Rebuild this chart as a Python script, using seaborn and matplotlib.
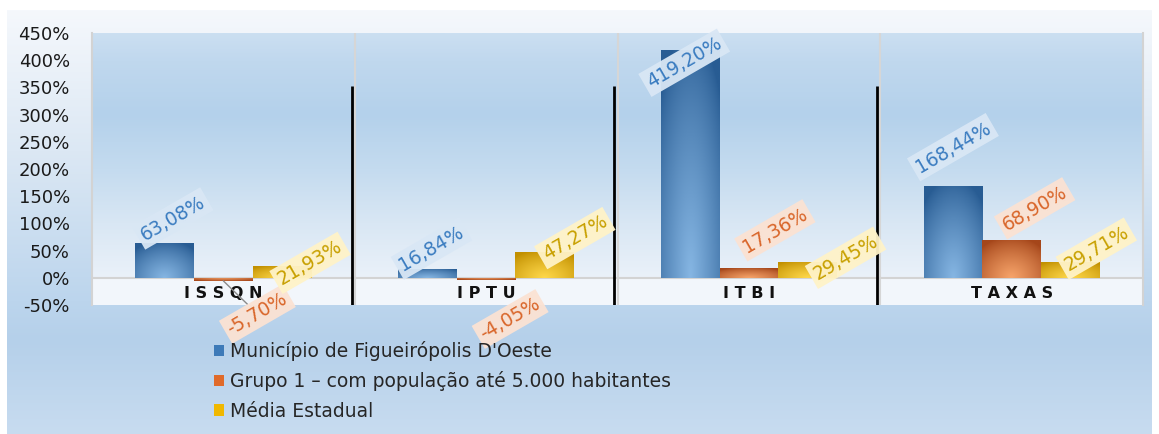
import numpy as np
import pandas as pd
import matplotlib.pyplot as plt
import seaborn as sns
from matplotlib.colors import to_rgb
from matplotlib.patches import Patch

# Data
categorias = ["ISSQN", "IPTU", "ITBI", "TAXAS"]
series = ["Município de Figueirópolis D'Oeste",
          "Grupo 1 \u2013 com população até 5.000 habitantes",
          "Média Estadual"]
municipio = [63.08, 16.84, 419.20, 168.44]
grupo1 = [-5.70, -4.05, 17.36, 68.90]
media_estadual = [21.93, 47.27, 29.45, 29.71]
yticks = list(range(-50, 451, 50))

df = pd.DataFrame({
    "categoria": categorias * 3,
    "serie": [s for s in series for _ in categorias],
    "valor": municipio + grupo1 + media_estadual,
})

# Colours: (dark edge, light centre, legend, label text, label box)
estilos = [
    ("#285c93", "#86b6e3", "#3d7ab8", "#3a7cc0", "#d9e7f5"),
    ("#a5461a", "#f7a46a", "#e06a2a", "#d9662a", "#fbe2d3"),
    ("#c29000", "#ffd84a", "#f0b800", "#c8a000", "#fff3c8"),
]

# manual label placement (pixels from bar end), like the original
offsets = [
    [(8, 25), (4, 20), (-6, -13), (0, 39)],
    [(34, -33), (24, -39), (26, 38), (23, 32)],
    [(28, 3), (30, 14), (38, 4), (26, 13)],
]

sns.set_style("white")
plt.rcParams["font.family"] = ["DejaVu Sans"]

W, H = 1159, 434
fig = plt.figure(figsize=(W / 100, H / 100), dpi=100)

# figure background gradient (framed area)
bg = fig.add_axes([0, 0, 1, 1], zorder=0)
img = np.ones((H, W, 3))
ys = np.arange(H)
stops_y = [10, 150, 300, 340, 434]
stops_c = [to_rgb(c) for c in ["#f5f8fc", "#dce8f4", "#bcd5ed", "#b5d0ea", "#c8dcf0"]]
col = np.stack([np.interp(ys, stops_y, [c[i] for c in stops_c]) for i in range(3)], axis=1)
img[10:, 7:1152, :] = col[10:, None, :]
bg.imshow(img, extent=[0, W, 0, H], aspect="auto")
bg.axis("off")

ax = fig.add_axes([92 / W, 129 / H, (1143 - 92) / W, (305 - 33) / H], zorder=1)
ax.patch.set_alpha(0)

# plot area gradient
gy = np.linspace(0, 450, 200)
g_stops = [0, 100, 200, 300, 400, 450]
g_cols = [to_rgb(c) for c in ["#eaf1f9", "#d9e7f4", "#c4dbef", "#b4d1eb", "#c0d8ee", "#cbdff1"]]
grad = np.stack([np.interp(gy, g_stops, [c[i] for c in g_cols]) for i in range(3)], axis=1)[::-1]
ax.imshow(grad[:, None, :], extent=[-0.5, 3.5, 0, 450], aspect="auto", zorder=0)
ax.axhspan(-50, 0, color="#f2f6fb", zorder=0, lw=0)

sns.barplot(data=df, x="categoria", y="valor", hue="serie", hue_order=series,
            palette=[e[2] for e in estilos], width=0.67, saturation=1,
            errorbar=None, legend=False, ax=ax)


def gradiente(patch, dark, light):
    x0, y0 = patch.get_x(), patch.get_y()
    w, h = patch.get_width(), patch.get_height()
    n = 60
    xx, yy = np.meshgrid(np.linspace(0, 1, n), np.linspace(1, 0, n))
    base = 0 if h >= 0 else 1
    r = np.sqrt(((xx - 0.5) / 0.75) ** 2 + ((yy - base) / 1.1) ** 2)
    t = np.clip(1 - r, 0, 1) ** 0.8
    d, l = np.array(to_rgb(dark)), np.array(to_rgb(light))
    im = d[None, None, :] * (1 - t[..., None]) + l[None, None, :] * t[..., None]
    ymin, ymax = min(y0, y0 + h), max(y0, y0 + h)
    art = ax.imshow(im, extent=[x0, x0 + w, ymin, ymax], aspect="auto", zorder=2)
    art.set_clip_path(patch)


for i, cont in enumerate(ax.containers):
    dark, light, _, tcol, bcol = estilos[i]
    for j, bar in enumerate(cont):
        bar.set_zorder(2)
        bar.set_edgecolor("none")
        gradiente(bar, dark, light)
        v = bar.get_height()
        xc = bar.get_x() + bar.get_width() / 2
        dx, dy = offsets[i][j]
        txt = f"{abs(v):.2f}".replace(".", ",") + "%"
        if v < 0:
            txt = "-" + txt
        arrow = None
        if i == 1 and j == 0:
            arrow = dict(arrowstyle="-", color="#8a8a8a", lw=1, shrinkA=0, shrinkB=0)
        ax.annotate(txt, xy=(xc, v), xytext=(dx, dy), textcoords="offset pixels",
                    ha="center", va="center", rotation=30, fontsize=13.5,
                    color=tcol, zorder=5, annotation_clip=False,
                    bbox=dict(boxstyle="square,pad=0.2", fc=bcol, ec="none", alpha=0.95),
                    arrowprops=arrow)

ax.set_xlim(-0.5, 3.5)
ax.set_ylim(-50, 450)
ax.set_yticks(yticks)
ax.set_yticklabels([f"{t}%" for t in yticks], fontsize=13, color="#1a1a1a")
ax.tick_params(axis="y", length=0, pad=16)
ax.set_xticks([])
ax.set_xlabel("")
ax.set_ylabel("")

# category separators and baseline
for b in [0.5, 1.5, 2.5]:
    ax.axvline(b, color="#d6d6d6", lw=1.5, zorder=1)
ax.axhline(0, color="#d3d3d3", lw=1.5, zorder=1)
ax.vlines([0.488, 1.488, 2.488], -50, 352, color="black", lw=2, zorder=3)

for k, c in enumerate(categorias):
    ax.text(k, -28, " ".join(c), ha="center", va="center", fontsize=11.5,
            fontweight="bold", color="#111111", zorder=4)

for s in ["top", "bottom"]:
    ax.spines[s].set_visible(False)
for s in ["left", "right"]:
    ax.spines[s].set_color("#d3d3d3")
    ax.spines[s].set_linewidth(1.5)

handles = [Patch(facecolor=e[2], edgecolor="none") for e in estilos]
fig.legend(handles, series, loc="upper left", bbox_to_anchor=(214 / W, 1 - 341 / H),
           frameon=False, fontsize=13.5, handlelength=0.55, handleheight=0.55,
           handletextpad=0.3, labelspacing=0.55, borderpad=0, borderaxespad=0)

fig.savefig("out.png", dpi=100)
